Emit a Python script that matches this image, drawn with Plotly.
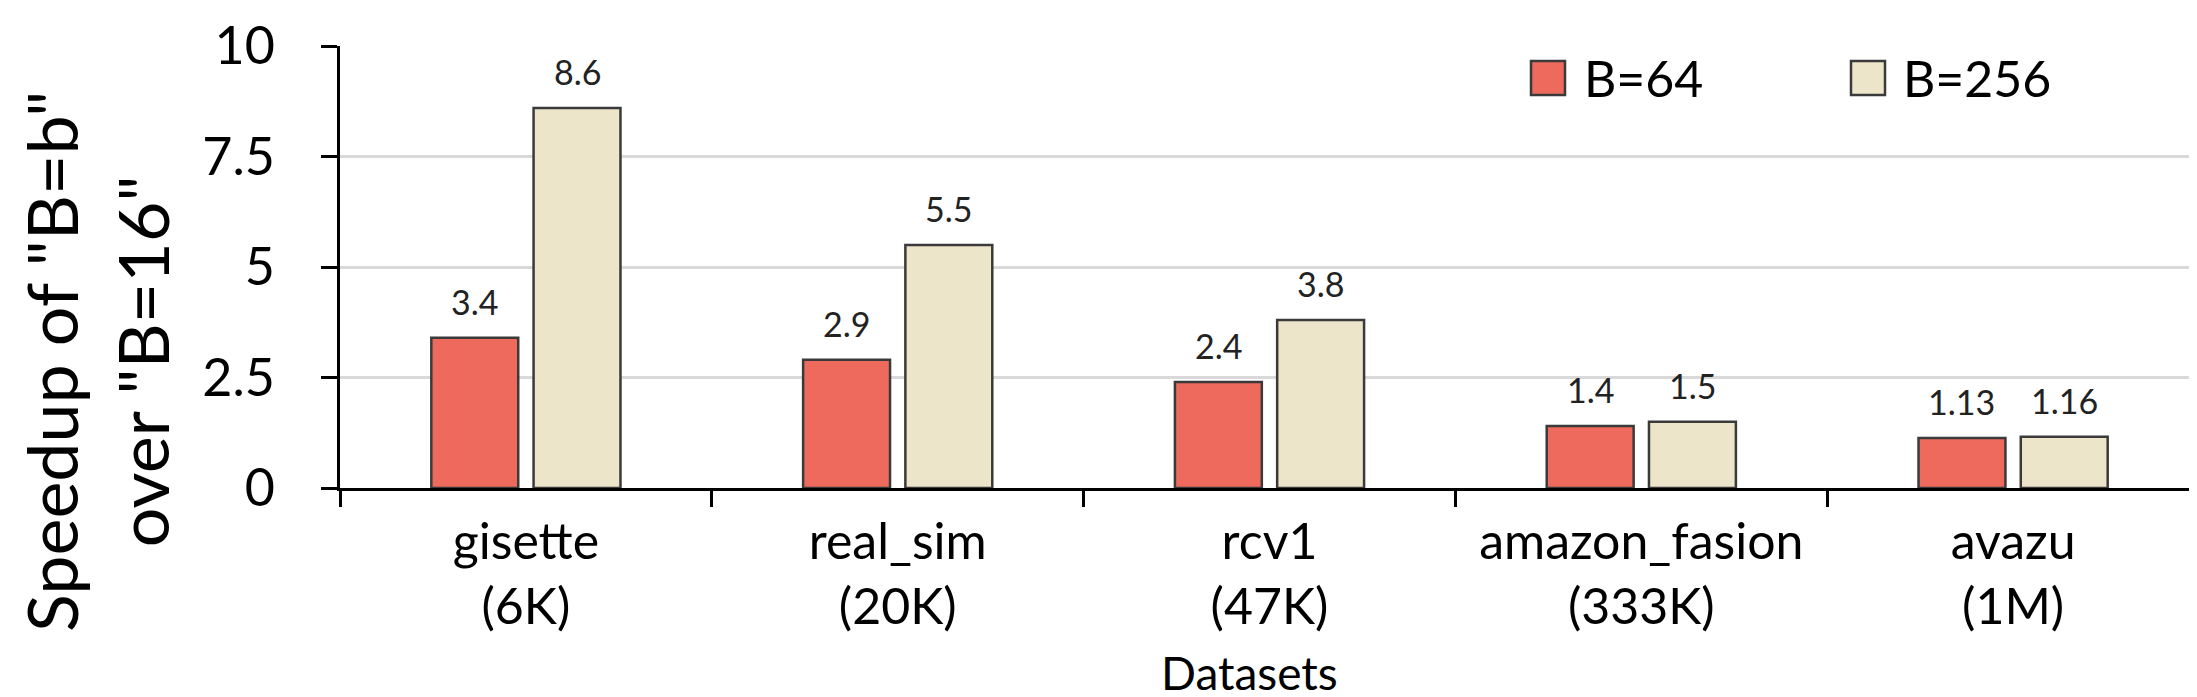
import plotly.graph_objects as go

# --- data ---
datasets = ["gisette", "real_sim", "rcv1", "amazon_fasion", "avazu"]
sizes = ["(6K)", "(20K)", "(47K)", "(333K)", "(1M)"]
b64 = [3.4, 2.9, 2.4, 1.4, 1.13]
b256 = [8.6, 5.5, 3.8, 1.5, 1.16]
b64_text = ["3.4", "2.9", "2.4", "1.4", "1.13"]
b256_text = ["8.6", "5.5", "3.8", "1.5", "1.16"]
series_names = ["B=64", "B=256"]
y_ticks = [0, 2.5, 5, 7.5, 10]

FONT = "Lato"
RED = "#EE6A5C"
CREAM = "#ECE5CA"
EDGE = "#3a3a3a"

W, H = 2197, 697
M_L, M_R, M_T, M_B = 332, 6, 38, 217
BARGAP, GROUPGAP = 0.45, 0.15

tick_text = [f"{d}<br>{s}" for d, s in zip(datasets, sizes)]

fig = go.Figure()
for name, vals, color in [(series_names[0], b64, RED), (series_names[1], b256, CREAM)]:
    fig.add_trace(go.Bar(
        x=datasets, y=vals, name=name,
        marker=dict(color=color, line=dict(color=EDGE, width=2.5)),
        showlegend=False, hoverinfo="x+y"
    ))

# value labels above each bar (offset to match the grouped bar slots)
cat_px = (W - M_L - M_R) / len(datasets)
slot_px = cat_px * (1 - BARGAP) / 2
annotations = []
for vals, txts, sgn in [(b64, b64_text, -1), (b256, b256_text, 1)]:
    for d, v, t in zip(datasets, vals, txts):
        annotations.append(dict(
            x=d, y=v, xref="x", yref="y", text=t, showarrow=False,
            xshift=sgn * slot_px / 2, yshift=14, yanchor="bottom",
            font=dict(family=FONT, size=34, color="#222222")
        ))

px = lambda p: (p - M_L) / (W - M_L - M_R)
py = lambda p: (480 - p) / (480 - M_T)

# y axis title (two lines, rotated)
annotations.append(dict(
    x=px(88), y=py(353), xref="paper", yref="paper",
    text='Speedup of "B=b"<br>over "B=16"',
    textangle=-90, showarrow=False, xanchor="center", yanchor="middle",
    font=dict(family=FONT, size=70, color="#000000")
))

# x axis title
annotations.append(dict(
    x=px(1241), y=py(693), xref="paper", yref="paper", text="Datasets",
    showarrow=False, xanchor="center", yanchor="bottom", borderpad=0,
    font=dict(family=FONT, size=46, color="#000000")
))

# legend
shapes = []
for name, color, sx, tx in [(series_names[0], RED, 1540, 1574), (series_names[1], CREAM, 1860, 1893)]:
    shapes.append(dict(type="rect", xref="paper", yref="paper",
                       x0=px(sx - 17), x1=px(sx + 17), y0=py(70 + 17), y1=py(70 - 17),
                       fillcolor=color, line=dict(color=EDGE, width=2.5)))
    annotations.append(dict(x=px(tx), y=py(70), xref="paper", yref="paper", text=name,
                            showarrow=False, xanchor="left", yanchor="middle",
                            font=dict(family=FONT, size=50, color="#000000")))

fig.update_layout(
    width=W, height=H,
    margin=dict(l=M_L, r=M_R, t=M_T, b=M_B),
    paper_bgcolor="white", plot_bgcolor="white",
    barmode="group", bargap=BARGAP, bargroupgap=GROUPGAP,
    font=dict(family=FONT, size=50, color="#000000"),
    annotations=annotations, shapes=shapes,
    xaxis=dict(
        tickmode="array", tickvals=datasets, ticktext=tick_text,
        tickson="boundaries", ticks="outside", ticklen=16, tickwidth=2.5, tickcolor="#000",
        showline=True, linecolor="#000", linewidth=3,
        showgrid=False, zeroline=False, ticklabelstandoff=8,
        tickfont=dict(family=FONT, size=50, color="#000"),
        automargin=False
    ),
    yaxis=dict(
        range=[0, 10], tickmode="array", tickvals=y_ticks,
        ticks="outside", ticklen=16, tickwidth=2.5, tickcolor="#000",
        showline=True, linecolor="#000", linewidth=2.5,
        showgrid=True, gridcolor="#d9d9d9", gridwidth=3,
        zeroline=False, ticklabelstandoff=36,
        tickfont=dict(family=FONT, size=52, color="#000"),
        automargin=False
    ),
)

fig.write_html("out.html")
